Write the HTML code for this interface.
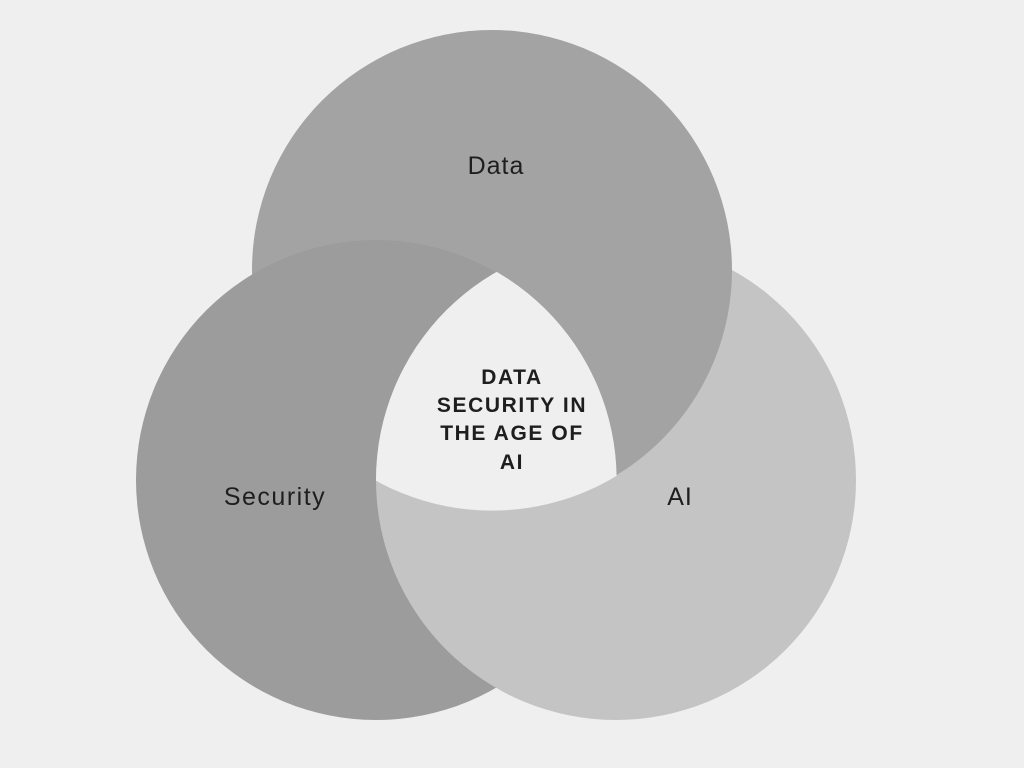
<!DOCTYPE html>
<html><head><meta charset="utf-8"><style>
html,body{margin:0;padding:0;background:#efefef;}
svg{display:block}
text{font-family:"Liberation Sans",sans-serif;fill:#1e1e1e;}
</style></head><body>
<svg width="1024" height="768" viewBox="0 0 1024 768">
<defs>
<clipPath id="s"><circle cx="376" cy="480" r="240.6"/></clipPath>
<clipPath id="s2"><circle cx="376" cy="480" r="240.6"/></clipPath>
<clipPath id="sd" clip-path="url(#s2)"><circle cx="492" cy="270" r="240.6"/></clipPath>
</defs>
<rect width="1024" height="768" fill="#efefef"/>
<circle cx="616" cy="480" r="240" fill="#c4c4c4"/>
<circle cx="492" cy="270" r="240" fill="#a3a3a3"/>
<circle cx="376" cy="480" r="240" fill="#9c9c9c"/>
<circle cx="616" cy="480" r="240" fill="#c4c4c4" clip-path="url(#s)"/>
<circle cx="616" cy="480" r="240" fill="#efefef" clip-path="url(#sd)"/>
<text x="496" y="174" font-size="25" letter-spacing="1" text-anchor="middle">Data</text>
<text x="275" y="505" font-size="25" letter-spacing="1.5" text-anchor="middle">Security</text>
<text x="680" y="505" font-size="25" letter-spacing="1" text-anchor="middle">AI</text>
<g font-size="21" font-weight="bold" text-anchor="middle" letter-spacing="1.6">
<text x="512" y="384">DATA</text>
<text x="512" y="412">SECURITY IN</text>
<text x="512" y="440">THE AGE OF</text>
<text x="512" y="469">AI</text>
</g>
</svg>
</body></html>
